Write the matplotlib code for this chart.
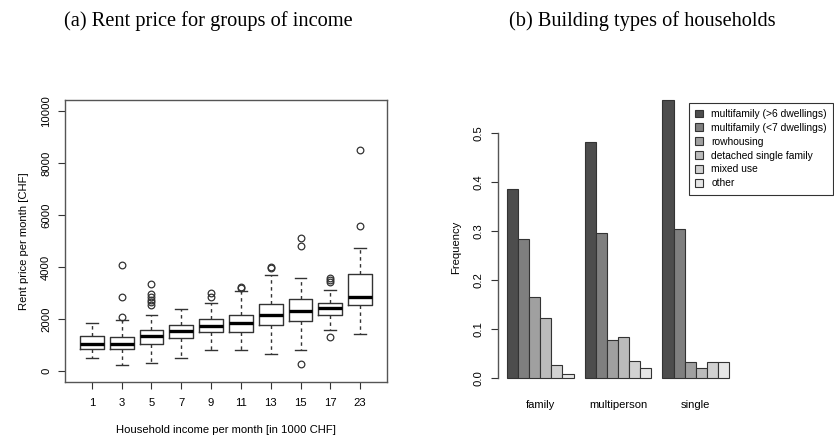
import matplotlib
matplotlib.use("Agg")
import matplotlib.pyplot as plt
from matplotlib.patches import Patch

plt.rcParams['font.family'] = ['Liberation Sans', 'DejaVu Sans']

# (a) rent price per income group, box statistics
income_labels = ['1', '3', '5', '7', '9', '11', '13', '15', '17', '23']
rent_whislo = [490, 220, 310, 500, 810, 800, 650, 800, 1590, 1420]
rent_q1 = [860, 830, 1050, 1260, 1490, 1500, 1760, 1940, 2170, 2540]
rent_med = [1050, 1050, 1330, 1550, 1720, 1850, 2170, 2300, 2410, 2860]
rent_q3 = [1360, 1320, 1590, 1780, 1990, 2140, 2580, 2760, 2600, 3720]
rent_whishi = [1860, 1970, 2170, 2400, 2600, 3090, 3700, 3590, 3100, 4730]
rent_outliers = [
    [],
    [4060, 2860, 2090],
    [3350, 2950, 2850, 2750, 2650, 2550],
    [],
    [3010, 2860],
    [3240, 3180],
    [4010, 3950],
    [5110, 4800, 260],
    [3580, 3500, 3440, 1300],
    [8490, 5590],
]

# (b) building type shares per household type
household_types = ['family', 'multiperson', 'single']
building_types = ['multifamily (>6 dwellings)', 'multifamily (<7 dwellings)', 'rowhousing',
                  'detached single family', 'mixed use', 'other']
share_family = [0.386, 0.285, 0.165, 0.124, 0.027, 0.009]
share_multiperson = [0.483, 0.296, 0.078, 0.084, 0.035, 0.020]
share_single = [0.568, 0.305, 0.033, 0.021, 0.033, 0.033]
type_colors = ['#4d4d4d', '#7f7f7f', '#a0a0a0', '#bbbbbb', '#d1d1d1', '#e6e6e6']

W, H = 834, 438
fig = plt.figure(figsize=(W / 100, H / 100), dpi=100)

line_col = '#333333'
fs = 8.1

# ---- left: boxplot
ax1 = fig.add_axes([65 / W, 1 - 382 / H, (387 - 65) / W, (382 - 100) / H])
stats = []
for i in range(len(income_labels)):
    stats.append(dict(med=rent_med[i], q1=rent_q1[i], q3=rent_q3[i],
                      whislo=rent_whislo[i], whishi=rent_whishi[i],
                      fliers=rent_outliers[i], label=income_labels[i]))
ax1.bxp(stats, positions=range(1, len(stats) + 1), widths=0.8, capwidths=0.4,
        boxprops=dict(color=line_col, linewidth=1.0),
        medianprops=dict(color='black', linewidth=2.4),
        whiskerprops=dict(color=line_col, linewidth=1.0, linestyle=(0, (2.5, 2.5))),
        capprops=dict(color=line_col, linewidth=1.0),
        flierprops=dict(marker='o', markersize=4.8, markerfacecolor='none',
                        markeredgecolor=line_col, markeredgewidth=0.9))
ax1.set_xlim(0.1, 10.9)
ax1.set_ylim(-420, 10420)
ax1.set_yticks(range(0, 10001, 2000))
ax1.tick_params(axis='y', labelrotation=90, length=5, pad=5, labelsize=fs, color=line_col)
ax1.tick_params(axis='x', length=5, pad=6.5, labelsize=fs, color=line_col)
for lab in ax1.get_yticklabels():
    lab.set_verticalalignment('center')
for s in ax1.spines.values():
    s.set_color('#555555')
    s.set_linewidth(1.0)
ax1.set_xlabel('Household income per month [in 1000 CHF]', fontsize=fs, labelpad=12)
ax1.set_ylabel('Rent price per month [CHF]', fontsize=fs, labelpad=9)

# ---- right: grouped bars
ax2 = fig.add_axes([498 / W, 1 - 392 / H, (738 - 498) / W, (392 - 102.7) / H])
shares = [share_family, share_multiperson, share_single]
n_types = len(building_types)
for g, vals in enumerate(shares):
    lefts = [g * (n_types + 1) + 1 + i for i in range(n_types)]
    ax2.bar(lefts, vals, width=1, align='edge', color=type_colors,
            edgecolor=line_col, linewidth=0.8, clip_on=False)
ax2.set_xlim(0.2, 21.8)
ax2.set_ylim(-0.028, 0.5624)
ax2.set_xticks([g * (n_types + 1) + 1 + n_types / 2 for g in range(len(household_types))])
ax2.set_xticklabels(household_types)
ax2.tick_params(axis='x', length=0, pad=5.5, labelsize=fs)
ax2.set_yticks([0.0, 0.1, 0.2, 0.3, 0.4, 0.5])
ax2.tick_params(axis='y', labelrotation=90, length=5, pad=5.5, labelsize=fs, color=line_col)
for lab in ax2.get_yticklabels():
    lab.set_verticalalignment('center')
for side in ['top', 'right', 'bottom']:
    ax2.spines[side].set_visible(False)
ax2.spines['left'].set_bounds(0, 0.5)
ax2.spines['left'].set_color('#555555')
ax2.spines['left'].set_linewidth(1.0)
ax2.set_ylabel('Frequency', fontsize=fs, labelpad=9)

# legend kept inside the figure, against its right edge
handles = [Patch(facecolor=c, edgecolor=line_col, linewidth=0.8) for c in type_colors]
leg = fig.legend(handles, building_types, loc='upper right',
                 bbox_to_anchor=(833 / W, 1 - 102.7 / H),
                 fontsize=7.4, frameon=True, fancybox=False, borderpad=0.6,
                 handlelength=0.75, handleheight=0.75, handletextpad=0.8,
                 labelspacing=0.38, borderaxespad=0)
leg.get_frame().set_edgecolor('black')
leg.get_frame().set_linewidth(0.8)

# titles
fig.text(208 / W, 1 - 21 / H, '(a) Rent price for groups of income',
         family='Liberation Serif', fontsize=14.7, ha='center', va='center')
fig.text(642 / W, 1 - 21 / H, '(b) Building types of households',
         family='Liberation Serif', fontsize=14.7, ha='center', va='center')

fig.savefig('out.png', dpi=100)
